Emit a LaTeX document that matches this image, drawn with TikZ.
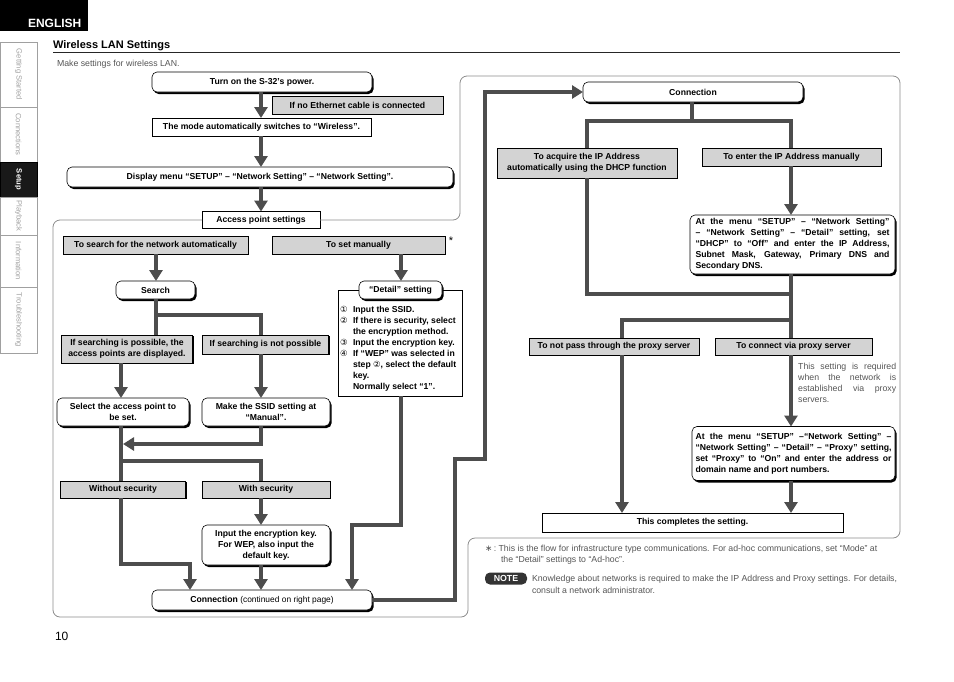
\documentclass[tikz,border=0pt]{standalone}
\usepackage{fontspec}
\setmainfont{Liberation Sans}
\newfontfamily\dejavu{DejaVu Sans}
\usetikzlibrary{arrows.meta,shadows}
\definecolor{cg}{HTML}{4D4D4D}
\definecolor{gfill}{HTML}{D3D3D3}
\definecolor{frm}{HTML}{8C8C8C}
\definecolor{txtg}{HTML}{555555}
\definecolor{tabg}{HTML}{A0A0A0}
\newcommand\bx{\fontsize{8.65}{11}\selectfont\bfseries}
\newcommand\rg{\fontsize{8.75}{11}\selectfont}
\newcommand\cn[1]{\makebox[13pt][l]{\dejavu\mdseries\fontsize{8.4}{11}\selectfont #1}}
\begin{document}
\begin{tikzpicture}[x=1pt,y=-1pt,
  base/.style={inner sep=0pt, outer sep=0pt, font=\bx, align=center},
  rbox/.style={base, draw=black, line width=0.6pt, fill=white, rounded corners=5pt,
     drop shadow={shadow xshift=1.6pt, shadow yshift=-2pt, fill=black, opacity=1}},
  gbox/.style={base, draw=black, line width=0.7pt, fill=gfill,
     drop shadow={shadow xshift=1.2pt, shadow yshift=-0.8pt, fill=black, opacity=1}},
  wbox/.style={base, draw=black, line width=0.7pt, fill=white},
  ln/.style={draw=cg, line width=4pt},
  arr/.style={ln, -{Triangle[width=13pt,length=11pt]}},
  frame/.style={draw=frm, line width=0.8pt, rounded corners=7pt},
  tab/.style={draw=tabg, line width=0.6pt, rotate=-90, inner sep=0pt, outer sep=0pt,
     font=\fontsize{7.6}{9}\selectfont, text=tabg},
  plain/.style={inner sep=0pt, outer sep=0pt, anchor=base west}
]
\useasboundingbox (0,0) rectangle (954,681);

% header
\node[fill=black, minimum width=88pt, minimum height=31pt, inner sep=0pt, outer sep=0pt] (engbox) at (44,15.5) {};
\node[plain, font=\fontsize{12}{14}\selectfont\bfseries, text=white] (eng) at (28,27.5) {ENGLISH};
\node[plain, font=\fontsize{11}{13}\selectfont\bfseries] (ttl) at (53,48.5) {Wireless LAN Settings};
\draw[line width=1.3pt, black!85] (53,52.5) -- (900,52.5);
\node[plain, font=\rg, text=txtg] (sub) at (57,66) {Make settings for wireless LAN.};
\node[plain, font=\fontsize{12}{14}\selectfont] (pg) at (55,640) {10};

% sidebar
\node[tab, minimum width=65pt, minimum height=37pt] (t1) at (18.5,74.5) {Getting Started};
\node[tab, minimum width=55pt, minimum height=37pt] (t2) at (18.5,134.5) {Connections};
\node[tab, minimum width=35pt, minimum height=37pt, fill=black!90, draw=black, text=white, font=\fontsize{7.6}{9}\selectfont\bfseries] (t3) at (18.5,179.5) {Setup};
\node[tab, minimum width=38pt, minimum height=37pt] (t4) at (18.5,216) {Playback};
\node[tab, minimum width=52pt, minimum height=37pt] (t5) at (18.5,261) {Information};
\node[tab, minimum width=66pt, minimum height=37pt] (t6) at (18.5,320) {Troubleshooting};

% left panel nodes
\node[rbox, minimum width=220pt, minimum height=20pt] (turn) at (262,82) {Turn on the S-32’s power.};
\node[gbox, minimum width=171pt, minimum height=18pt] (noeth) at (357.5,105) {If no Ethernet cable is connected};
\node[wbox, minimum width=219pt, minimum height=18pt] (mode) at (261.5,127) {The mode automatically switches to “Wireless”.};
\node[rbox, minimum width=386pt, minimum height=20pt] (disp) at (260,177) {Display menu “SETUP” – “Network Setting” – “Network Setting”.};
\node[wbox, minimum width=118pt, minimum height=17pt] (aps) at (261,220) {Access point settings};
\draw[frame] (aps.west) -- (53,220) -- (53,617) -- (468,617) -- (468,538) -- (900,538) -- (900,76) -- (460,76) -- (460,220) -- (aps.east);
\node[gbox, minimum width=185pt, minimum height=18pt] (auto) at (155.5,245) {To search for the network automatically};
\node[gbox, minimum width=173pt, minimum height=18pt] (man) at (358.5,245) {To set manually};
\node[font=\fontsize{11}{12}\selectfont, inner sep=0pt] (ast) at (451,241) {*};
\node[rbox, minimum width=79pt, minimum height=18pt] (search) at (155.5,290) {Search};
\node[wbox, minimum width=124pt, minimum height=106pt] (detbox) at (400,343) {};
\node[rbox, minimum width=83pt, minimum height=18pt] (detail) at (400.5,290) {“Detail” setting};
\node[base, anchor=north west, align=left] (detlist) at (340,306.5) {%
\cn{①}Input the SSID.\\
\cn{②}If there is security, select\\
\hspace*{13pt}the encryption method.\\
\cn{③}Input the encryption key.\\
\cn{④}If “WEP” was selected in\\
\hspace*{13pt}step {\dejavu\mdseries\fontsize{8.4}{11}\selectfont ②}, select the default\\
\hspace*{13pt}key.\\
\hspace*{13pt}Normally select “1”.};
\node[gbox, minimum width=131pt, minimum height=28pt] (poss) at (127,349) {If searching is possible, the\\access points are displayed.};
\node[gbox, minimum width=126pt, minimum height=19pt] (notp) at (265.5,344.5) {If searching is not possible};
\node[rbox, minimum width=132pt, minimum height=28pt] (sel) at (123,412) {Select the access point to\\be set.};
\node[rbox, minimum width=128pt, minimum height=28pt] (ssid) at (266,412) {Make the SSID setting at\\“Manual”.};
\node[gbox, minimum width=125pt, minimum height=17pt] (wo) at (123,489.5) {Without security};
\node[gbox, minimum width=128pt, minimum height=17pt] (ws) at (266,489.5) {With security};
\node[rbox, minimum width=128pt, minimum height=40pt] (enc) at (266,545) {Input the encryption key.\\For WEP, also input the\\default key.};
\node[rbox, minimum width=220pt, minimum height=20pt] (conn) at (262,600) {Connection {\mdseries\fontsize{8.4}{10}\selectfont (continued on right page)}};

% right panel nodes
\node[rbox, minimum width=220pt, minimum height=20pt] (connR) at (693,92) {Connection};
\node[gbox, minimum width=180pt, minimum height=30pt] (dhcp) at (587,163) {To acquire the IP Address\\automatically using the DHCP function};
\node[gbox, minimum width=179pt, minimum height=18pt] (ipman) at (791.5,157) {To enter the IP Address manually};
\node[rbox, minimum width=205pt, minimum height=59pt, text width=194pt, align=justify] (ipset) at (792.5,244.5) {At the menu “SETUP” – “Network Setting”\linebreak – “Network Setting” – “Detail” setting, set\linebreak “DHCP” to “Off” and enter the IP Address,\linebreak Subnet Mask, Gateway, Primary DNS and\linebreak Secondary DNS.};
\node[gbox, minimum width=170pt, minimum height=17pt] (nopx) at (614,346.5) {To not pass through the proxy server};
\node[gbox, minimum width=157pt, minimum height=17pt] (viapx) at (793.5,346.5) {To connect via proxy server};
\node[inner sep=0pt, anchor=north west, text width=98pt, align=justify, font=\rg, text=txtg] (pxnote) at (798,363) {This setting is required\linebreak when the network is\linebreak established via proxy\linebreak servers.};
\node[rbox, minimum width=203pt, minimum height=54pt, text width=196pt, align=justify] (pxset) at (793.5,453.5) {At the menu “SETUP” –“Network Setting” –\linebreak “Network Setting” – “Detail” – “Proxy” setting,\linebreak set “Proxy” to “On” and enter the address or\linebreak domain name and port numbers.};
\node[wbox, minimum width=301pt, minimum height=19pt] (done) at (692.5,522.5) {This completes the setting.};

% notes
\node[plain, font=\rg, text=txtg] (fn1) at (485,551) {{\dejavu ∗}\,:\ This is the flow for infrastructure type communications. For ad-hoc communications, set “Mode” at};
\node[plain, font=\rg, text=txtg] (fn2) at (501,562) {the “Detail” settings to “Ad-hoc”.};
\node[fill=black!80, rounded corners=5pt, text=white, font=\fontsize{8.8}{10}\selectfont\bfseries, minimum width=42pt, minimum height=12pt, inner sep=0pt] (note) at (506,578.5) {NOTE};
\node[plain, font=\rg, text=txtg] (nt1) at (532,581) {Knowledge about networks is required to make the IP Address and Proxy settings. For details,};
\node[plain, font=\rg, text=txtg] (nt2) at (532,593) {consult a network administrator.};

% column / junction coordinates
\coordinate (cA) at (121,0);
\coordinate (cB) at (261,0);
\coordinate (cS) at (156,0);
\coordinate (cM) at (401,0);
\coordinate (cC) at (190,0);
\coordinate (cK) at (352,0);
\coordinate (cD) at (587,0);
\coordinate (cE) at (791,0);
\coordinate (cF) at (622,0);
\coordinate (j1) at (156,315);
\coordinate (j3) at (123,444);
\coordinate (j4) at (121,461);
\coordinate (j5) at (121,564);
\coordinate (j6) at (352,525);
\coordinate (k1) at (455,459);
\coordinate (k2) at (485,459);
\coordinate (jr) at (692,121);
\coordinate (j8) at (791,121);
\coordinate (j9) at (791,294);
\coordinate (j10) at (791,320);

% left connectors
\draw[arr] (turn.south -| cB) -- (mode.north -| cB);
\draw[arr] (mode.south -| cB) -- (disp.north -| cB);
\draw[arr] (disp.south -| cB) -- (aps.north -| cB);
\draw[arr] (auto.south -| cS) -- (search.north -| cS);
\draw[arr] (man.south -| cM) -- (detail.north -| cM);
\draw[ln] (search.south -| cS) -- (poss.north -| cS);
\draw[ln] (j1) -| (notp.north -| cB);
\draw[arr] (poss.south -| cA) -- (sel.north -| cA);
\draw[arr] (notp.south -| cB) -- (ssid.north -| cB);
\draw[ln] (sel.south -| cA) -- (wo.north -| cA);
\draw[arr] (ssid.south -| cB) |- (j3);
\draw[ln] (j4) -| (ws.north -| cB);
\draw[arr] (wo.south -| cA) -- (j5) -| (conn.north -| cC);
\draw[arr] (ws.south -| cB) -- (enc.north -| cB);
\draw[arr] (enc.south -| cB) -- (conn.north -| cB);
\draw[arr] (detbox.south -| cM) |- (j6) -- (conn.north -| cK);
\draw[arr] (conn.east) -| (k1) -- (k2) |- (connR.west);

% right connectors
\draw[ln] (connR.south -| jr) -- (jr);
\draw[ln] (dhcp.north -| cD) |- (j8) -- (ipman.north -| cE);
\draw[arr] (ipman.south -| cE) -- (ipset.north -| cE);
\draw[ln] (dhcp.south -| cD) |- (j9);
\draw[ln] (ipset.south -| cE) -- (viapx.north -| cE);
\draw[ln] (j10) -| (nopx.north -| cF);
\draw[arr] (viapx.south -| cE) -- (pxset.north -| cE);
\draw[arr] (pxset.south -| cE) -- (done.north -| cE);
\draw[arr] (nopx.south -| cF) -- (done.north -| cF);
\end{tikzpicture}
\end{document}
